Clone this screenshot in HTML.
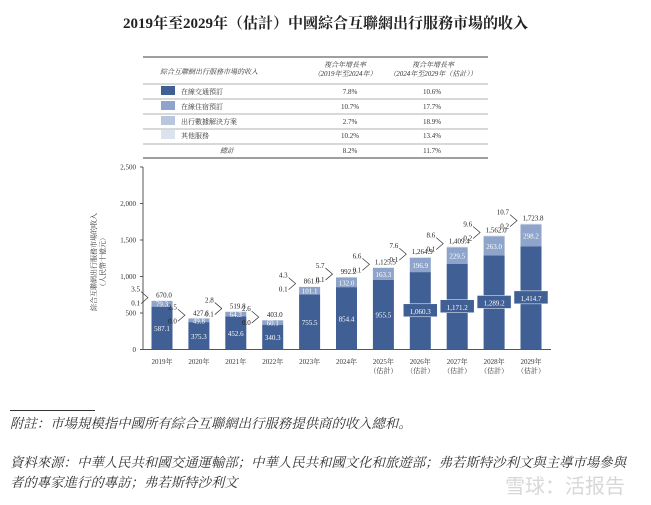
<!DOCTYPE html>
<html><head><meta charset="utf-8">
<style>
body{margin:0;background:#fff;width:651px;height:505px;overflow:hidden;font-family:"Liberation Serif","Noto Serif CJK SC",serif;}
.t{position:absolute;white-space:nowrap;}
</style></head><body>
<div class="t" style="left:0;width:651px;top:12px;text-align:center;font-size:15px;font-weight:bold;color:#222;">2019年至2029年（估計）中國綜合互聯網出行服務市場的收入</div>
<svg id="s" width="651" height="505" style="position:absolute;left:0;top:0"></svg>
<div class="t" style="left:10px;top:410px;width:85px;border-top:1px solid #333;"></div>
<div class="t" style="left:10px;top:413px;font-size:13.4px;font-style:italic;color:#333;">附註：市場規模指中國所有綜合互聯網出行服務提供商的收入總和。</div>
<div class="t" style="left:10px;top:453px;font-size:13.4px;font-style:italic;color:#333;line-height:20px;">資料來源：中華人民共和國交通運輸部；中華人民共和國文化和旅遊部；弗若斯特沙利文與主導市場參與<br>者的專家進行的專訪；弗若斯特沙利文</div>
<div class="t" style="left:505px;top:470px;font-size:20px;color:rgba(140,140,140,0.35);font-family:'Noto Sans CJK SC',sans-serif;">雪球：活报告</div>
<script>
const categories=["2019年","2020年","2021年","2022年","2023年","2024年","2025年","2026年","2027年","2028年","2029年"];
const estimated=[false,false,false,false,false,false,true,true,true,true,true];
const transport=[587.1,375.3,452.6,340.3,755.5,854.4,955.5,1060.3,1171.2,1289.2,1414.7];
const lodging=[79.3,49.8,64.3,60.1,101.1,132.0,163.3,196.9,229.5,263.0,298.2];
const dataSol=[0.1,0.0,0.1,0.0,0.1,0.1,0.1,0.1,0.1,0.2,0.2];
const other=[3.5,2.5,2.8,2.6,4.3,5.7,6.6,7.6,8.6,9.6,10.7];
const totals=["670.0","427.6","519.8","403.0","861.0","992.2","1,125.5","1,264.9","1,409.4","1,562.0","1,723.8"];
const yTicks=[0,500,1000,1500,2000,2500];
const legendNames=["在線交通預訂","在線住宿預訂","出行數據解決方案","其他服務"];
const cagr1=["7.8%","10.7%","2.7%","10.2%","8.2%"];
const cagr2=["10.6%","17.7%","18.9%","13.4%","11.7%"];
const colors=["#3f5f95","#8ea4ca","#b9c7de","#dce3ee"];
const s=document.getElementById('s');
const NS="http://www.w3.org/2000/svg";
function el(tag,attrs,txt){const e=document.createElementNS(NS,tag);for(const k in attrs)e.setAttribute(k,attrs[k]);if(txt!==undefined)e.textContent=txt;s.appendChild(e);return e;}
const y=v=>349.5-v*(182.5/2500);
const x=i=>162+i*36.9;
const bw=21;
let l=el('line',{x1:143,x2:488,y1:57,y2:57,stroke:'#666','stroke-width':1.2});
el('text',{x:160,y:74,'font-size':7,'font-style':'italic',fill:'#333'},'綜合互聯網出行服務市場的收入');
el('text',{x:345,y:67,'font-size':7,'text-anchor':'middle','font-style':'italic',fill:'#333'},'複合年增長率');
el('text',{x:345,y:76,'font-size':7,'text-anchor':'middle','font-style':'italic',fill:'#333'},'（2019年至2024年）');
el('text',{x:433,y:67,'font-size':7,'text-anchor':'middle','font-style':'italic',fill:'#333'},'複合年增長率');
el('text',{x:433,y:76,'font-size':7,'text-anchor':'middle','font-style':'italic',fill:'#333'},'（2024年至2029年（估計））');
const rowY=[92,107,122,136,151];
[84,99,114,129,144,158].forEach((yy,i)=>{let r=el('line',{x1:143,x2:488,y1:yy,y2:yy,stroke:i==5?'#666':'#999','stroke-width':i==5?1.2:0.8});});
for(let i=0;i<5;i++){
  if(i<4){let sw=el('rect',{x:161,y:rowY[i]-6,width:14,height:9,fill:colors[i]});
  let t=el('text',{x:181,y:rowY[i]+2,'font-size':7,fill:'#333'},legendNames[i]);}
  else el('text',{x:220,y:rowY[i]+2,'font-size':7,'font-style':'italic',fill:'#333'},'總計');
  el('text',{x:350,y:rowY[i]+2,'font-size':7,'text-anchor':'middle',fill:'#333'},cagr1[i]);
  el('text',{x:432,y:rowY[i]+2,'font-size':7,'text-anchor':'middle',fill:'#333'},cagr2[i]);
}
let ax=el('line',{x1:143,x2:143,y1:y(2500),y2:y(0),stroke:'#555'});
let bx=el('line',{x1:143,x2:551,y1:y(0),y2:y(0),stroke:'#555'});
yTicks.forEach(v=>{el('line',{x1:140,x2:143,y1:y(v),y2:y(v),stroke:'#555'});
  let t=el('text',{x:136,y:y(v)+2.5,'font-size':7,'text-anchor':'end',fill:'#333'},v.toLocaleString('en-US'));});
let yt=el('text',{transform:'translate(96,262) rotate(-90)','font-size':7,'text-anchor':'middle',fill:'#333'},'綜合互聯網出行服務市場的收入');
el('text',{transform:'translate(105,262) rotate(-90)','font-size':7,'text-anchor':'middle',fill:'#333'},'（人民幣十億元）');
categories.forEach((c,i)=>{
  const cx=x(i),x0=cx-bw/2;
  let base=0;
  [transport[i],lodging[i],dataSol[i],other[i]].forEach((v,k)=>{
    let r=el('rect',{x:x0,y:y(base+v),width:bw,height:y(base)-y(base+v),fill:colors[k]});
    
    base+=v;});
  const tm=y(transport[i]/2);
  if(i>=7){el('rect',{x:cx-17,y:tm-7,width:34,height:13,fill:'#3f5f95',stroke:'#fff','stroke-width':0.5});}
  el('text',{x:cx,y:tm+3,'font-size':7,'text-anchor':'middle',fill:'#fff'},transport[i].toFixed(1).replace(/\B(?=(\d{3})+(?!\d))/g,','));
  el('text',{x:cx,y:y(transport[i]+lodging[i]/2)+3,'font-size':7,'text-anchor':'middle',fill:'#fff'},lodging[i].toFixed(1));
  const top=y(base);
  let tl=el('text',{x:cx+2,y:top-3,'font-size':7,'text-anchor':'middle',fill:'#222'},totals[i]);
  el('polyline',{points:`${cx-21},${top-9} ${cx-14},${top-3} ${cx-21},${top+3}`,fill:'none',stroke:'#333','stroke-width':0.7});
  el('text',{x:cx-22,y:top-9,'font-size':7,'text-anchor':'end',fill:'#222'},other[i].toFixed(1));
  el('text',{x:cx-22,y:top+5,'font-size':7,'text-anchor':'end',fill:'#222'},dataSol[i].toFixed(1));
  let xl=el('text',{x:cx,y:364,'font-size':7,'text-anchor':'middle',fill:'#333'},c);
  if(estimated[i])el('text',{x:cx,y:373,'font-size':7,'text-anchor':'middle',fill:'#333'},'（估計）');
});
</script>
</body></html>
